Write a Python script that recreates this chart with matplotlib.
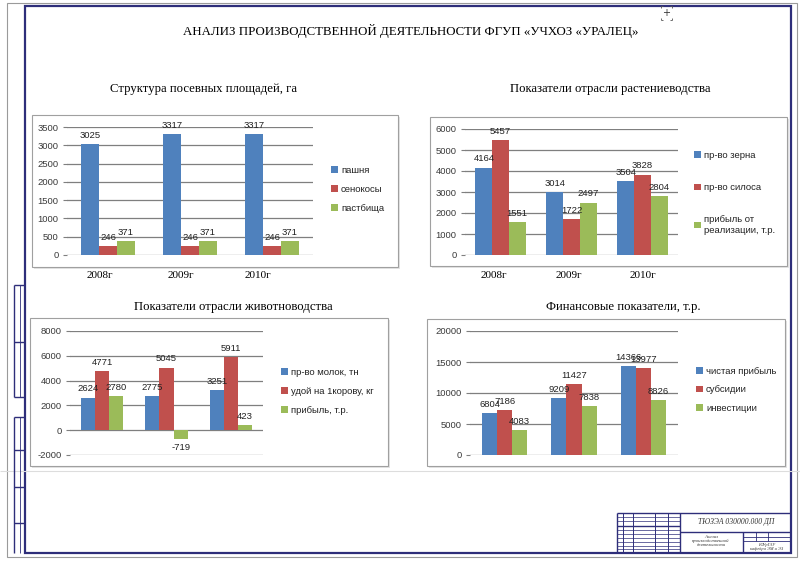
import numpy as np
import matplotlib.pyplot as plt
from matplotlib.patches import Rectangle

plt.rcParams['axes.unicode_minus'] = False

# --- data ---
years = ['2008г', '2009г', '2010г']

area_names = ['пашня', 'сенокосы', 'пастбища']
arable = [3025, 3317, 3317]
hayfields = [246, 246, 246]
pastures = [371, 371, 371]

crop_names = ['пр-во зерна', 'пр-во силоса', 'прибыль от\nреализации, т.р.']
grain = [4164, 3014, 3504]
silage = [5457, 1722, 3828]
crop_profit = [1551, 2497, 2804]

livestock_names = ['пр-во молок, тн', 'удой на 1корову, кг', 'прибыль, т.р.']
milk = [2624, 2775, 3251]
milk_yield = [4771, 5045, 5911]
livestock_profit = [2780, -719, 423]

finance_names = ['чистая прибыль', 'субсидии', 'инвестиции']
net_profit = [6804, 9209, 14366]
subsidies = [7186, 11427, 13977]
investments = [4083, 7838, 8826]

colors = ['#4F81BD', '#C0504D', '#9BBB59']
navy = '#2E2E7A'
W, H = 800, 562

fig = plt.figure(figsize=(8, 5.62), dpi=100)
bg = fig.add_axes([0, 0, 1, 1])
bg.set_xlim(0, W)
bg.set_ylim(H, 0)
bg.axis('off')


def px_axes(x0, y0, x1, y1):
    return fig.add_axes([x0 / W, 1 - y1 / H, (x1 - x0) / W, (y1 - y0) / H])


def line(xs, ys, color=navy, lw=1.0):
    bg.plot(xs, ys, color=color, lw=lw, solid_capstyle='butt')


# sheet frames
bg.add_patch(Rectangle((7, 3), 790, 554, fill=False, ec='#9a9a9a', lw=0.8))
bg.add_patch(Rectangle((25, 6), 766, 547, fill=False, ec=navy, lw=1.6))
line([0, 800], [471, 471], color='#dddddd', lw=0.8)

# left side strip
line([14, 14], [285, 397])
line([14, 14], [417, 553])
line([19.5, 19.5], [285, 397], lw=0.6)
line([19.5, 19.5], [417, 553], lw=0.6)
for yy in [285, 342, 397, 417, 450, 487, 523]:
    line([14, 25], [yy, yy])

# corner mark
bg.text(666, 13, '+', ha='center', va='center', fontsize=7, color='#333333')
for cx, cy, dx, dy in [(661, 6, 1, 1), (672, 6, -1, 1), (661, 20, 1, -1), (672, 20, -1, -1)]:
    line([cx, cx + 2 * dx], [cy, cy], color='#555555', lw=0.6)
    line([cx, cx], [cy, cy + 2 * dy], color='#555555', lw=0.6)

# title block
line([617, 791], [513, 513])
line([617, 617], [513, 553])
line([680, 680], [513, 553])
for xx in [623, 633, 655, 668]:
    line([xx, xx], [513, 553], lw=0.7)
for yy in [517, 521, 526, 530, 534, 538, 542, 546, 549]:
    line([617, 680], [yy, yy], lw=0.5)
line([617, 680], [526, 526])
line([680, 791], [532, 532])
line([743, 743], [532, 553])
for yy in [537, 541]:
    line([743, 791], [yy, yy], lw=0.6)
for xx in [756, 768]:
    line([xx, xx], [532, 541], lw=0.6)
bg.text(736, 522, 'ТЮЗЭА 030000.000 ДП', ha='center', va='center', fontsize=5.5,
        style='italic', family='Liberation Serif', color='#333333')
bg.text(711, 541, 'Анализ\nпроизводственной\nдеятельности', ha='center', va='center',
        fontsize=3.4, style='italic', family='Liberation Serif', color='#333333', linespacing=1.0)
bg.text(767, 547, 'ЮУрГАУ\nкафедра ЭМ и ЭЗ', ha='center', va='center', fontsize=3.2,
        style='italic', family='Liberation Serif', color='#333333', linespacing=1.0)

# headings
serif = 'Liberation Serif'
bg.text(411, 31, 'АНАЛИЗ ПРОИЗВОДСТВЕННОЙ ДЕЯТЕЛЬНОСТИ ФГУП «УЧХОЗ «УРАЛЕЦ»',
        ha='center', va='center', fontsize=9.25, family=serif)
bg.text(204, 89, 'Структура посевных площадей, га', ha='center', va='center', fontsize=9.2, family=serif)
bg.text(610, 89, 'Показатели отрасли растениеводства', ha='center', va='center', fontsize=9.2, family=serif)
bg.text(233, 307, 'Показатели отрасли животноводства', ha='center', va='center', fontsize=9.2, family=serif)
bg.text(623, 307, 'Финансовые показатели, т.р.', ha='center', va='center', fontsize=9.2, family=serif)


def bar_chart(box, plot, series, names, ylim, step, barw, leg_xy, leg_space):
    x0, y0, x1, y1 = box
    bg.add_patch(Rectangle((x0 + 1.5, y0 + 1.5), x1 - x0, y1 - y0, fc='#e4e4e4', ec='none'))
    bg.add_patch(Rectangle((x0, y0), x1 - x0, y1 - y0, fc='white', ec='#a0a0a0', lw=0.8))
    ax = px_axes(*plot)
    ax.patch.set_alpha(0)
    pos = np.arange(len(years))
    handles = []
    for i, vals in enumerate(series):
        bars = ax.bar(pos + (i - 1) * barw, vals, barw, color=colors[i], zorder=3)
        handles.append(bars)
        for b, v in zip(bars, vals):
            ax.annotate(str(v), (b.get_x() + b.get_width() / 2, v),
                        xytext=(0, 3 if v >= 0 else -3), textcoords='offset points',
                        ha='center', va='bottom' if v >= 0 else 'top',
                        fontsize=6.8, color='#222222', family='Liberation Sans',
                        annotation_clip=False, zorder=4)
    ax.set_xlim(-0.5, len(years) - 0.5)
    ax.set_ylim(*ylim)
    ax.set_yticks(np.arange(ylim[0], ylim[1] + 1, step))
    ax.yaxis.grid(True, color='#7f7f7f', lw=0.9)
    ax.set_axisbelow(True)
    for s in ax.spines.values():
        s.set_visible(False)
    ax.set_xticks([])
    ax.tick_params(axis='y', length=3, width=0.8, color='#7f7f7f', labelsize=6.8,
                   labelcolor='#3a3a3a', pad=3)
    for t in ax.get_yticklabels():
        t.set_family('Liberation Sans')
    leg = ax.legend(handles, names, loc='upper left', bbox_to_anchor=leg_xy,
                    bbox_transform=bg.transData, frameon=False, fontsize=6.8,
                    handlelength=0.7, handleheight=0.7, handletextpad=0.35,
                    labelspacing=leg_space, borderpad=0, borderaxespad=0,
                    prop={'family': 'Liberation Sans', 'size': 6.8})
    for t in leg.get_texts():
        t.set_color('#222222')
    return ax


bar_chart((32, 115, 398, 267), (67, 127, 313, 255), [arable, hayfields, pastures], area_names,
          (0, 3500), 500, 0.216, (331, 166), 1.05)
bar_chart((430, 117, 787, 266), (465, 129, 678, 255), [grain, silage, crop_profit], crop_names,
          (0, 6000), 1000, 0.235, (694, 151), 2.45)
bar_chart((30, 318, 388, 466), (70, 331, 263, 455), [milk, milk_yield, livestock_profit], livestock_names,
          (-2000, 8000), 2000, 0.22, (281, 368), 1.05)
bar_chart((427, 319, 785, 466), (470, 331, 678, 455), [net_profit, subsidies, investments], finance_names,
          (0, 20000), 5000, 0.217, (696, 367), 1.0)

# year captions under the upper charts
for xx, yr in zip([100, 181, 258], years):
    bg.text(xx, 275, yr, ha='center', va='center', fontsize=8, family=serif)
for xx, yr in zip([494, 569, 643], years):
    bg.text(xx, 275, yr, ha='center', va='center', fontsize=8, family=serif)

fig.savefig('out.png', dpi=100)
